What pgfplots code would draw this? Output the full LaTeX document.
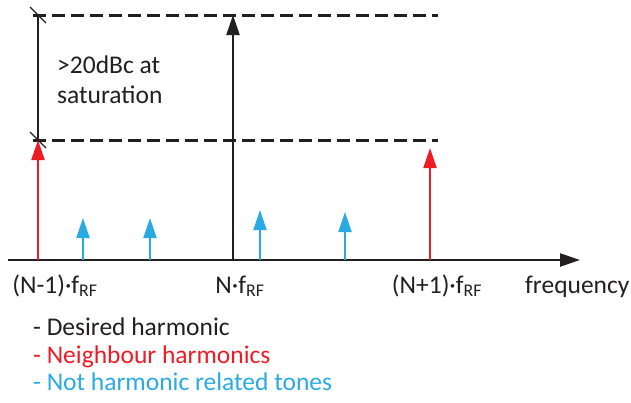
\documentclass[border=0pt]{standalone}
\usepackage{pgfplots}
\pgfplotsset{compat=1.18}
\usepackage{fontspec}
\setmainfont{Carlito}
\usetikzlibrary{arrows.meta}
\definecolor{myred}{RGB}{237,28,36}
\definecolor{myblue}{RGB}{41,171,226}
\definecolor{mydark}{RGB}{35,31,32}
\begin{document}
\begin{tikzpicture}
\begin{axis}[scale only axis, width=631pt, height=402pt,
  xmin=0, xmax=631, ymin=0, ymax=402, y dir=reverse,
  axis line style={draw=none}, ticks=none, clip=false,
  font=\fontsize{25.5}{28}\selectfont]
% frequency axis
\addplot[mydark, line width=2.3pt, -{Triangle[width=13pt,length=20pt]}] coordinates {(8,260) (580,260)};
% dashed reference levels
\addplot[mydark, line width=3pt, dash pattern=on 13pt off 6pt] coordinates {(33,15) (438,15)};
\addplot[mydark, line width=3pt, dash pattern=on 13pt off 6pt] coordinates {(33,140) (438,140)};
% measurement bar
\addplot[mydark, line width=1.4pt] coordinates {(38,15) (38,140)};
\addplot[mydark, line width=1.4pt] coordinates {(30,7) (46,23)};
\addplot[mydark, line width=1.4pt] coordinates {(30,132) (46,148)};
% desired harmonic
\addplot[mydark, line width=2.2pt, -{Triangle[width=13pt,length=20pt]}] coordinates {(233,260) (233,15)};
% neighbour harmonics
\addplot[myred, line width=2pt, -{Triangle[width=13pt,length=20pt]}] coordinates {(38,260) (38,140)};
\addplot[myred, line width=2pt, -{Triangle[width=13pt,length=20pt]}] coordinates {(430,260) (430,148)};
% not harmonic related tones
\addplot[myblue, line width=2pt, -{Triangle[width=13pt,length=20pt]}] coordinates {(83,260) (83,218)};
\addplot[myblue, line width=2pt, -{Triangle[width=13pt,length=20pt]}] coordinates {(150,260) (150,218)};
\addplot[myblue, line width=2pt, -{Triangle[width=13pt,length=20pt]}] coordinates {(260,260) (260,210)};
\addplot[myblue, line width=2pt, -{Triangle[width=13pt,length=20pt]}] coordinates {(345,260) (345,212)};
% texts
\node[anchor=base west, text=mydark, inner sep=0pt] at (axis cs:57,73) {>20dBc at};
\node[anchor=base west, text=mydark, inner sep=0pt] at (axis cs:57,103) {saturation};
\node[anchor=base, text=mydark, inner sep=0pt] at (axis cs:55,293) {(N-1)·f\textsubscript{RF}};
\node[anchor=base, text=mydark, inner sep=0pt] at (axis cs:240,293) {N·f\textsubscript{RF}};
\node[anchor=base, text=mydark, inner sep=0pt] at (axis cs:437,293) {(N+1)·f\textsubscript{RF}};
\node[anchor=base west, text=mydark, inner sep=0pt] at (axis cs:525,293) {frequency};
\node[anchor=base west, text=mydark, inner sep=0pt] at (axis cs:33,335) {- Desired harmonic};
\node[anchor=base west, text=myred, inner sep=0pt] at (axis cs:33,363) {- Neighbour harmonics};
\node[anchor=base west, text=myblue, inner sep=0pt] at (axis cs:33,390) {- Not harmonic related tones};
\end{axis}
\end{tikzpicture}
\end{document}
